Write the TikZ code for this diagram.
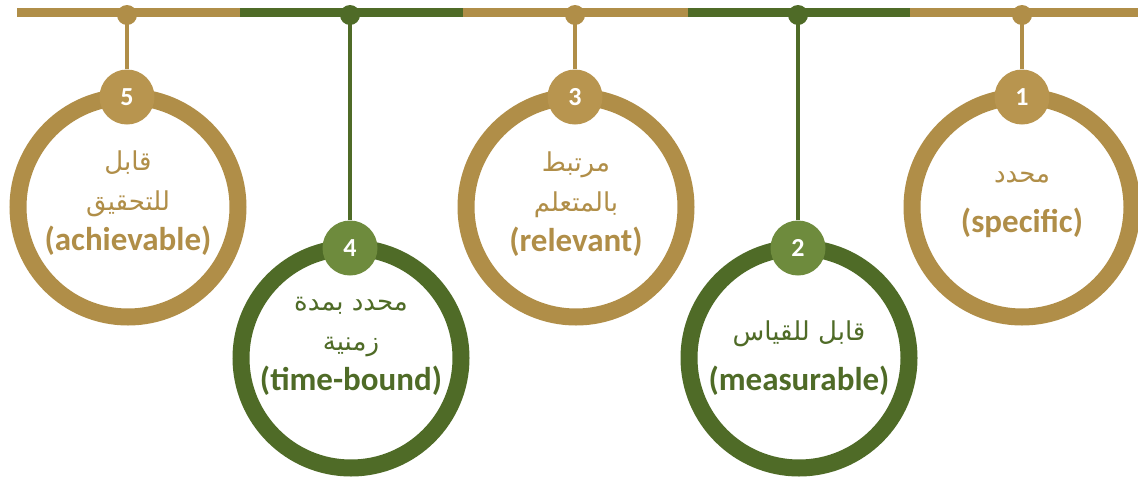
\documentclass[tikz,border=0pt]{standalone}
\usepackage{fontspec}
\setmainfont{Carlito}
\newfontfamily\arabicfont[Script=Arabic]{DejaVu Sans}
\TeXXeTstate=1
\definecolor{gold}{HTML}{B08E48}
\definecolor{goldbadge}{HTML}{B8954F}
\definecolor{leaf}{HTML}{4F6B27}
\definecolor{leafbadge}{HTML}{6E8B3D}
\newcommand{\artext}[1]{{\arabicfont\mdseries\fontsize{26}{40}\selectfont\beginR #1\endR}}
\tikzset{
	ring/.style={circle,draw=#1,line width=17pt,minimum size=220pt,inner sep=0pt},
	ringtext/.style={align=center,inner sep=0pt,text=#1,font=\fontsize{33}{40}\selectfont\bfseries},
	badge/.style={circle,fill=#1,minimum size=55pt,inner sep=0pt,text=white,font=\fontsize{26}{26}\selectfont\bfseries},
	hanger/.style={draw=#1,line width=4pt}
}
\begin{document}
\begin{tikzpicture}[x=1pt,y=-1pt]
			\useasboundingbox (0,0) rectangle (1138,480);
			\foreach \xa/\xb/\col in {17/240/gold,240/463/leaf,463/688/gold,688/910/leaf,910/1138/gold}
				\draw [\col,line width=9pt] (\xa,12)--(\xb,12);
			\foreach \n/\x/\col in {1/1022/gold,2/798/leaf,3/575/gold,4/350/leaf,5/127/gold}{
				\coordinate (d\n) at (\x,15);
				\fill [\col] (d\n) circle (10pt);
			}
			\node [ring=gold] (r1) at (1022,207) {};
			\node [ring=leaf] (r2) at (799,358) {};
			\node [ring=gold] (r3) at (576,207) {};
			\node [ring=leaf] (r4) at (351,358) {};
			\node [ring=gold] (r5) at (128,207) {};
			\node [ringtext=gold] (t1) at (1022,205) {\artext{محدد}\\[10pt](specific)};
			\node [ringtext=leaf] (t2) at (799,358) {\artext{قابل للقياس}\\[10pt](measurable)};
			\node [ringtext=gold] (t3) at (576,204) {\artext{مرتبط}\\\artext{بالمتعلم}\\(relevant)};
			\node [ringtext=leaf] (t4) at (351,346) {\artext{محدد بمدة}\\\artext{زمنية}\\(time-bound)};
			\node [ringtext=gold] (t5) at (128,203) {\artext{قابل}\\\artext{للتحقيق}\\(achievable)};
			\node [badge=goldbadge] (b1) at (1022,97) {1};
			\node [badge=leafbadge] (b2) at (798,248) {2};
			\node [badge=goldbadge] (b3) at (575,97) {3};
			\node [badge=leafbadge] (b4) at (350,248) {4};
			\node [badge=goldbadge] (b5) at (127,97) {5};
			\draw [hanger=gold] (d1)--(b1);
			\draw [hanger=leaf] (d2)--(b2);
			\draw [hanger=gold] (d3)--(b3);
			\draw [hanger=leaf] (d4)--(b4);
			\draw [hanger=gold] (d5)--(b5);
		\end{tikzpicture}
\end{document}
